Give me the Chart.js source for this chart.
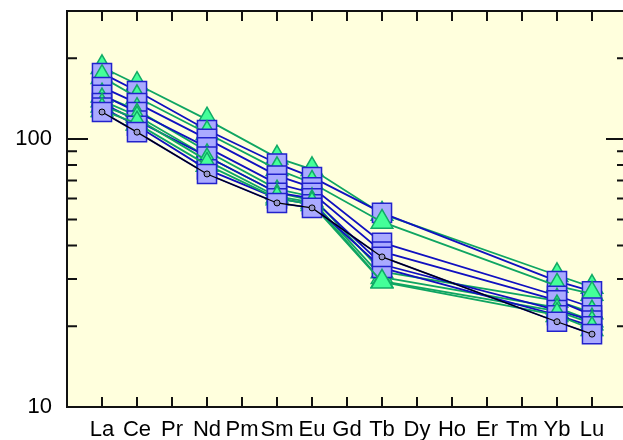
<!DOCTYPE html>
<html>
<head>
<meta charset="utf-8">
<script src="https://cdn.jsdelivr.net/npm/chart.js@4.4.1/dist/chart.umd.min.js"></script>
<style>
  html, body { margin: 0; padding: 0; background: #fff; overflow: hidden; }
  #wrap { width: 640px; height: 440px; }
</style>
</head>
<body>
<div id="wrap"><canvas id="ree" width="640" height="440"></canvas></div>
<script>
// REE axis and the elements that were measured
const elements = ['La', 'Ce', 'Pr', 'Nd', 'Pm', 'Sm', 'Eu', 'Gd', 'Tb', 'Dy', 'Ho', 'Er', 'Tm', 'Yb', 'Lu'];
const measured = ['La', 'Ce', 'Nd', 'Sm', 'Eu', 'Tb', 'Yb', 'Lu'];
const yTickLabels = [10, 100];
const yMinorTicks = [20, 30, 40, 50, 60, 70, 80, 90, 200];

// samples plotted as squares (blue)
const sq1 = [176, 151, 108, 81, 72, 53, 29.5, 27];
const sq2 = [156, 136, 100, 73, 66, 41, 26, 23.5];
const sq3 = [146, 126, 93, 68, 63, 38, 25, 22];
const sq4 = [136, 117, 86, 63, 60, 34, 23, 21];
const sq5 = [131, 112, 77, 60, 57, 33, 22, 20];
const sq6 = [126, 106, 74, 57.7, 55.3, 36.3, 20.8, 18.7];

// samples plotted as triangles (green)
const tri1 = [185, 160, 118, 85, 77, 52.5, 31, 28];
const tri2 = [170, 143, 105, 77, 68.5, 49, 28.3, 26.4];
const tri3 = [145, 128, 90, 65, 61, 32, 24.9, 22.5];
const tri4 = [139, 122, 86, 63, 59, 30.5, 23.5, 21];
const tri5 = [133, 119, 83, 61, 58, 29.5, 22.8, 20.5];
const tri6 = [128, 114, 80, 60, 57, 29.3, 22, 19.5];

// reference sample (small circle, black line)
const ref = [126, 106, 74, 57.7, 55.3, 36.3, 20.8, 18.7];

const toPoints = vals => vals.map((v, i) => ({ x: elements.indexOf(measured[i]) + 1, y: v }));

const square = vals => ({
  data: toPoints(vals),
  pointStyle: 'rect',
  pointRadius: 13.5,
  pointBackgroundColor: '#aaaaff',
  pointBorderColor: '#2222cc',
  pointBorderWidth: 1.5,
  borderColor: '#1010c0',
  borderWidth: 1.8
});
const triangle = vals => ({
  data: toPoints(vals),
  pointStyle: 'triangle',
  pointRadius: 12.5,
  pointBackgroundColor: '#44ff99',
  pointBorderColor: '#11aa66',
  pointBorderWidth: 1.5,
  borderColor: '#0fa562',
  borderWidth: 1.8
});

// first dataset is drawn on top
const datasets = [
  {
    data: toPoints(ref),
    pointStyle: 'circle',
    pointRadius: 3,
    pointBackgroundColor: '#9999cc',
    pointBorderColor: '#000',
    pointBorderWidth: 1,
    borderColor: '#000',
    borderWidth: 1.2
  },
  square(sq6), triangle(tri6), square(sq5), triangle(tri5), square(sq4),
  triangle(tri4), square(sq3), triangle(tri3), square(sq2), triangle(tri2),
  square(sq1), triangle(tri1)
];

const frame = {
  id: 'frame',
  beforeDraw(chart) {
    const { ctx, chartArea: a } = chart;
    ctx.save();
    ctx.fillStyle = '#ffffdd';
    ctx.fillRect(a.left, a.top, a.right - a.left, a.bottom - a.top);
    ctx.restore();
  },
  afterDraw(chart) {
    const { ctx, chartArea: a, scales } = chart;
    ctx.save();
    ctx.strokeStyle = '#111';
    ctx.lineWidth = 2;
    ctx.beginPath();
    elements.forEach((el, i) => {
      const px = scales.x.getPixelForValue(i + 1);
      ctx.moveTo(px, a.bottom); ctx.lineTo(px, a.bottom - 10);
      ctx.moveTo(px, a.top); ctx.lineTo(px, a.top + 10);
    });
    yMinorTicks.forEach(v => {
      const py = scales.y.getPixelForValue(v);
      ctx.moveTo(a.left, py); ctx.lineTo(a.left + 10, py);
      ctx.moveTo(a.right, py); ctx.lineTo(a.right - 10, py);
    });
    const p100 = scales.y.getPixelForValue(100);
    ctx.moveTo(a.left, p100); ctx.lineTo(a.left + 21, p100);
    ctx.moveTo(a.right, p100); ctx.lineTo(a.right - 21, p100);
    ctx.stroke();
    ctx.strokeRect(a.left, a.top, a.right - a.left, a.bottom - a.top);
    ctx.restore();
  }
};

new Chart(document.getElementById('ree'), {
  type: 'line',
  data: { datasets },
  options: {
    responsive: false,
    animation: false,
    layout: { autoPadding: false, padding: { top: 11, right: 13, left: 0, bottom: 0 } },
    plugins: { legend: { display: false }, tooltip: { enabled: false } },
    scales: {
      x: {
        type: 'linear',
        min: 0,
        max: 16,
        grid: { display: false },
        border: { display: false },
        afterBuildTicks: s => { s.ticks = elements.map((e, i) => ({ value: i + 1 })); },
        afterFit: s => { s.height = 33; s.paddingLeft = 0; s.paddingRight = 0; },
        ticks: {
          autoSkip: false,
          maxRotation: 0,
          padding: 2,
          color: '#000',
          font: { family: 'Liberation Sans, Arial', size: 22 },
          callback: v => elements[v - 1] || ''
        }
      },
      y: {
        type: 'logarithmic',
        min: 10,
        max: 300,
        grid: { display: false },
        border: { display: false },
        afterBuildTicks: s => { s.ticks = yTickLabels.map(v => ({ value: v })); },
        afterFit: s => { s.width = 67; s.paddingTop = 0; s.paddingBottom = 0; },
        ticks: {
          padding: 7,
          color: '#000',
          font: { family: 'Liberation Sans, Arial', size: 22 },
          callback: v => String(v)
        }
      }
    }
  },
  plugins: [frame]
});
</script>
</body>
</html>
